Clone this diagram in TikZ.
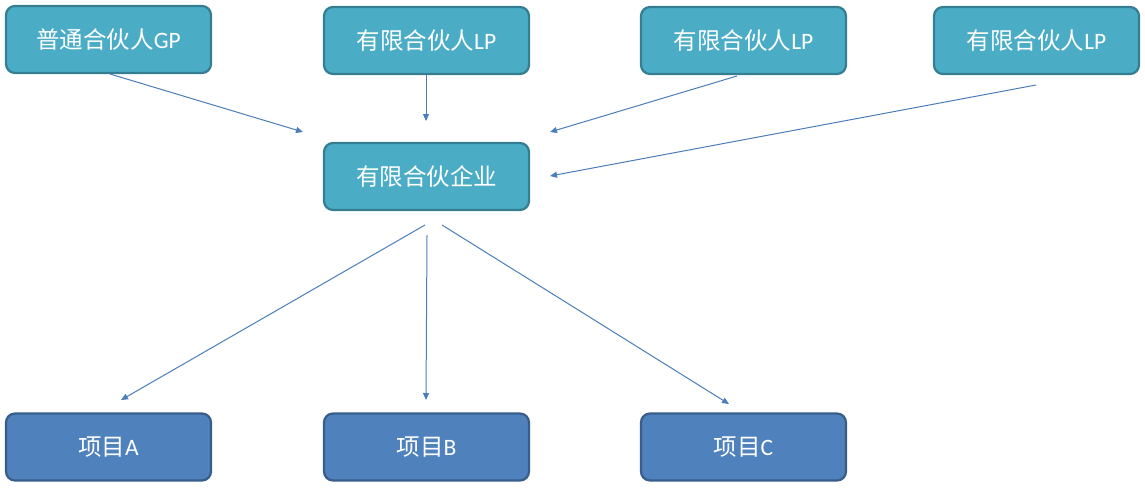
\documentclass[tikz,border=0pt]{standalone}
\usepackage{fontspec}
\setmainfont{Carlito}
\newfontfamily\cjk{Noto Sans CJK SC}
\usetikzlibrary{arrows.meta}
\definecolor{aquafill}{HTML}{4BACC6}
\definecolor{aquaedge}{HTML}{357D91}
\definecolor{bluefill}{HTML}{4F81BD}
\definecolor{blueedge}{HTML}{385D8A}
\definecolor{arrowc}{HTML}{4A7EBB}
\tikzset{
  box/.style={draw, line width=2.2pt, rounded corners=9pt, minimum width=205pt, minimum height=67pt, inner sep=0pt, text=white, font=\fontsize{23.5}{26}\selectfont},
  aqua/.style={box, fill=aquafill, draw=aquaedge},
  proj/.style={box, fill=bluefill, draw=blueedge},
  conn/.style={draw=arrowc, line width=1pt, -{Triangle[length=7pt,width=6pt]}}
}
\begin{document}
\begin{tikzpicture}[x=1pt,y=-1pt]
\useasboundingbox (0,0) rectangle (1145,488);
\node[aqua] (gp) at (108.5,39.5) {\cjk 普通合伙人\rmfamily GP};
\node[aqua] (lp1) at (426.5,40.5) {\cjk 有限合伙人\rmfamily LP};
\node[aqua] (lp2) at (743.5,40.5) {\cjk 有限合伙人\rmfamily LP};
\node[aqua] (lp3) at (1036.5,40.5) {\cjk 有限合伙人\rmfamily LP};
\node[aqua] (ent) at (426.5,176.5) {\cjk 有限合伙企业};
\node[proj] (pa) at (108.5,447) {\cjk 项目\rmfamily A};
\node[proj] (pb) at (426.5,447) {\cjk 项目\rmfamily B};
\node[proj] (pc) at (743.5,447) {\cjk 项目\rmfamily C};
% free ends
\coordinate (gps) at (110,74);
\coordinate (gpe) at (303,132);
\coordinate (lp1s) at (426,75);
\coordinate (lp1e) at (426,121);
\coordinate (lp2s) at (737,76);
\coordinate (lp2e) at (550,132);
\coordinate (lp3s) at (1036,85);
\coordinate (lp3e) at (550,176);
\coordinate (e1) at (425,225);
\coordinate (ae) at (121,400);
\coordinate (e2) at (427,235);
\coordinate (be) at (426,400);
\coordinate (e3) at (442,225);
\coordinate (ce) at (729,404);
\draw[conn] (gps) -- (gpe);
\draw[conn] (lp1s) -- (lp1e);
\draw[conn] (lp2s) -- (lp2e);
\draw[conn] (lp3s) -- (lp3e);
\draw[conn] (e1) -- (ae);
\draw[conn] (e2) -- (be);
\draw[conn] (e3) -- (ce);
\end{tikzpicture}
\end{document}
